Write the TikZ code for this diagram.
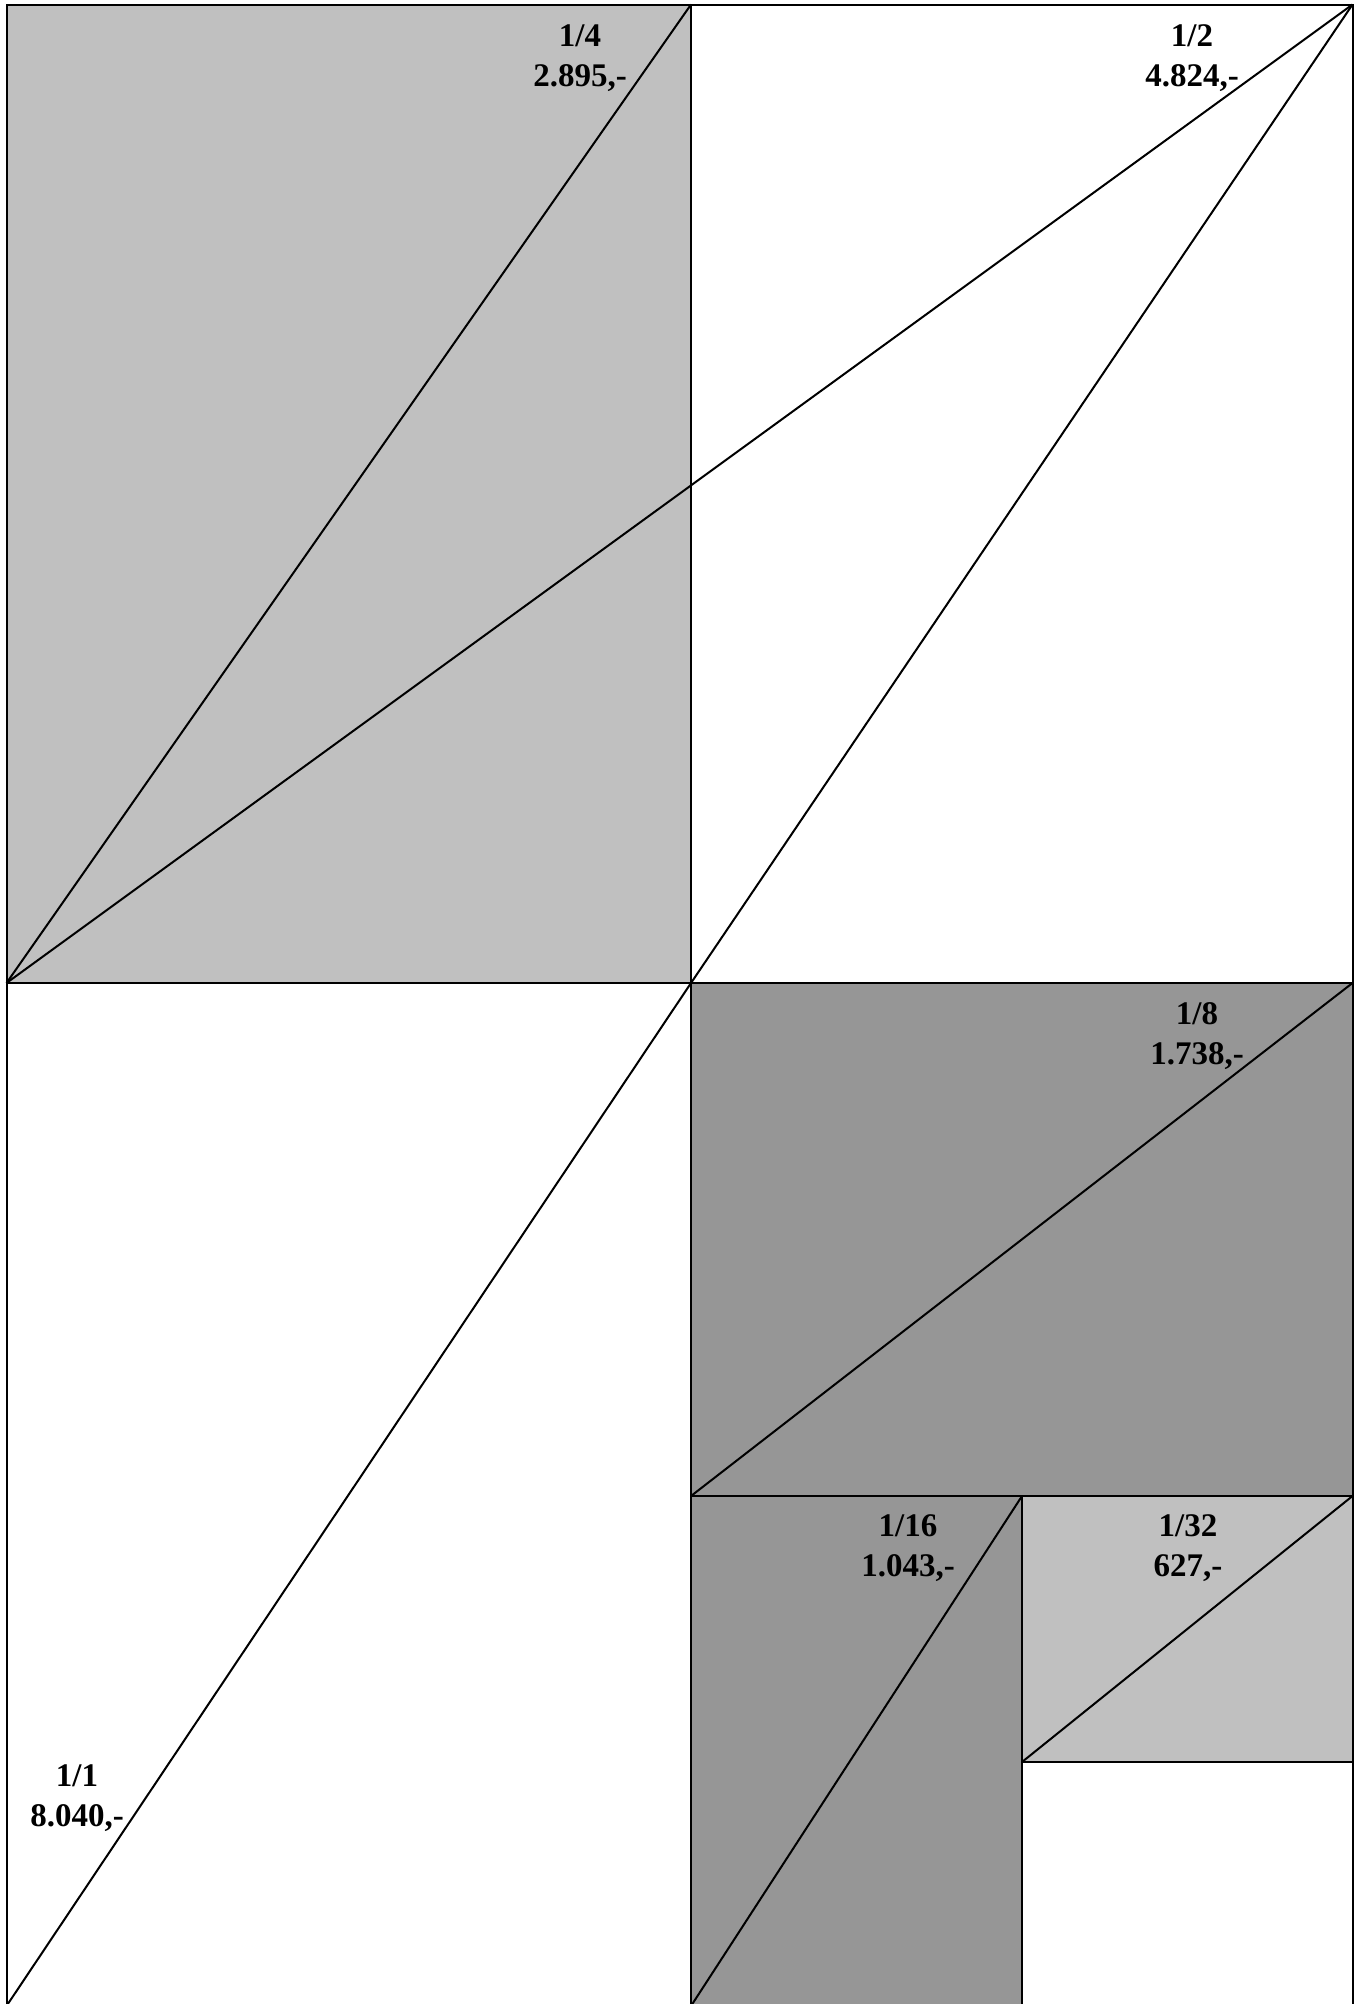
\documentclass[tikz,border=0pt]{standalone}
\usepackage{fontspec}
\setmainfont{Liberation Serif}
\definecolor{paleGrey}{HTML}{C0C0C0}
\definecolor{darkGrey}{HTML}{969696}

\begin{document}
\begin{tikzpicture}[x=0.5pt, y=-0.5pt,
  cut/.style={draw, line width=1pt},
  price/.style={align=center, inner sep=0pt,
    font=\bfseries\fontsize{16.5}{19.7}\selectfont}
]
  \useasboundingbox (0,0) rectangle (1364,2004);
  \clip (0,0) rectangle (1364,2004);

  % Corners
  \coordinate (tl) at (6.5,4.5);
  \coordinate (tm) at (691,4.5);
  \coordinate (tr) at (1352.5,4.5);
  \coordinate (ml) at (6.5,983);
  \coordinate (mm) at (691,983);
  \coordinate (mr) at (1352.5,983);
  \coordinate (c8) at (691,1496);
  \coordinate (s16) at (1022,1496);
  \coordinate (r8) at (1352.5,1496);
  \coordinate (s32) at (1022,1762);
  \coordinate (r32) at (1352.5,1762);
  \coordinate (bl) at (6.5,2006);
  \coordinate (bm) at (691,2006);
  \coordinate (bs) at (1022,2006);
  \coordinate (br) at (1352.5,2006);

  % Fields
  \fill[paleGrey] (tl) rectangle (mm);
  \fill[darkGrey] (mm) rectangle (r8);
  \fill[darkGrey] (c8) rectangle (bs);
  \fill[paleGrey] (s16) rectangle (r32);

  % Edges
  \draw[cut] (tl) rectangle (br);
  \draw[cut] (tm) -- (bm);
  \draw[cut] (ml) -- (mr);
  \draw[cut] (c8) -- (r8);
  \draw[cut] (s16) -- (bs);
  \draw[cut] (s32) -- (r32);

  % Diagonals
  \draw[cut] (ml) -- (tm);
  \draw[cut] (ml) -- (tr);
  \draw[cut] (mm) -- (tr);
  \draw[cut] (bl) -- (mm);
  \draw[cut] (c8) -- (mr);
  \draw[cut] (bm) -- (s16);
  \draw[cut] (s32) -- (r8);

  % Prices
  \node[price] (p4) at (580,58) {1/4\\2.895,-};
  \node[price] (p2) at (1192,58) {1/2\\4.824,-};
  \node[price] (p8) at (1197,1036) {1/8\\1.738,-};
  \node[price] (p16) at (908,1548) {1/16\\1.043,-};
  \node[price] (p32) at (1188,1548) {1/32\\627,-};
  \node[price] (p1) at (77,1798) {1/1\\8.040,-};
\end{tikzpicture}
\end{document}
